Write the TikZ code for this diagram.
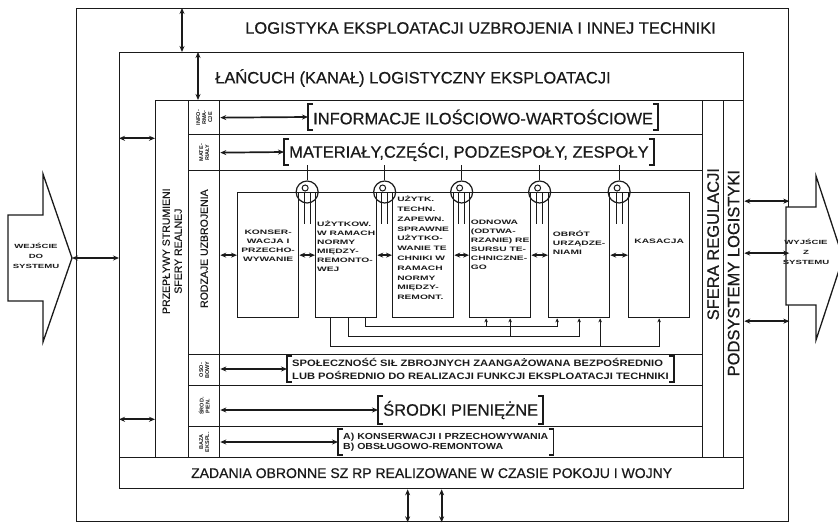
\documentclass[tikz,border=0pt]{standalone}
\usepackage{fontspec}
\setmainfont{Liberation Sans}
\newfontfamily\titlefont[FakeBold=0.6]{Liberation Sans}
\newfontfamily\stretchfont[FakeStretch=1.2]{Liberation Sans}
\newfontfamily\widefont[FakeStretch=1.6]{Liberation Sans}
\usepackage{tikz}
\usetikzlibrary{arrows.meta,positioning,calc}
\definecolor{InkBlack}{HTML}{1A1A1A}

\tikzset{
    % frames and cells, placed by their top left corner
    block/.style 2 args={
        draw=InkBlack,
        line width=1.3pt,
        anchor=north west,
        inner sep=0pt,
        minimum width=#1pt,
        minimum height=#2pt
    },
    % one kind of armament
    kindbox/.style={
        block={61}{125}
    },
    % titles of the frames
    titletext/.style={
        text=InkBlack,
        inner sep=0pt,
        font=\titlefont\fontsize{16.5}{19}\selectfont
    },
    % text set sideways
    sidetext/.style={
        text=InkBlack,
        rotate=90,
        align=center,
        inner sep=0pt,
        font=\titlefont\fontsize{10.5}{12}\selectfont
    },
    % tiny row labels
    rowlabel/.style={
        sidetext,
        font=\bfseries\fontsize{5.5}{6}\selectfont
    },
    % text inside the kinds of armament
    kindtext/.style={
        text=InkBlack,
        inner sep=0pt,
        align=left,
        font=\widefont\bfseries\fontsize{6.4}{9}\selectfont
    },
    % text between square brackets
    bracketed/.style={
        text=InkBlack,
        anchor=west,
        inner xsep=5pt,
        inner ysep=0pt,
        minimum height=26pt
    },
    bracketline/.style={
        draw=InkBlack,
        line width=1.8pt
    },
    % double arrow
    dblarrow/.style={
        {Stealth[length=6pt,width=5pt]}-{Stealth[length=6pt,width=5pt]},
        line width=1.7pt,
        draw=InkBlack
    },
    % regulating valve
    valve/.style={
        circle,
        draw=InkBlack,
        line width=1.2pt,
        minimum size=22pt,
        inner sep=0pt
    },
    thinline/.style={
        draw=InkBlack,
        line width=1pt
    },
    busline/.style={
        draw=InkBlack,
        line width=1pt
    },
    bustip/.style={
        busline,
        -{Stealth[length=4pt,width=3.5pt]}
    },
    % input and output of the system
    bigarrow/.style={
        draw=InkBlack,
        line width=1.3pt,
        fill=white
    }
}

\begin{document}
\begin{tikzpicture}[x=1pt, y=-1pt]
\useasboundingbox (0,0) rectangle (838,524);

% outer frames
\node[block={712}{513}] (logistyka) at (76,8) {};
\node[block={624}{436}] (lancuch) at (119,52) {};
\node[block={624}{31}] (zadania) at (119,457) {};
\node[titletext, anchor=west] at (245,28) {LOGISTYKA EKSPLOATACJI UZBROJENIA I INNEJ TECHNIKI};
\node[titletext, anchor=west] at (215,78) {ŁAŃCUCH (KANAŁ) LOGISTYCZNY EKSPLOATACJI};
\node[titletext, font=\titlefont\fontsize{14}{16}\selectfont] at (zadania.center) {ZADANIA OBRONNE SZ RP REALIZOWANE W CZASIE POKOJU I WOJNY};

% real sphere and regulation
\node[block={33}{357}] (strumienie) at (155,100) {};
\node[sidetext] at ($(strumienie.center)+(0,-28)$) {PRZEPŁYWY STRUMIENI\\SFERY REALNEJ};
\node[block={21}{357}] (sfera) at (702,100) {};
\node[block={20}{357}] (podsystemy) at (723,100) {};
\node[sidetext, font=\titlefont\fontsize{16.5}{19}\selectfont] at ($(sfera.center)+(0,-35)$) {SFERA REGULACJI};
\node[sidetext, font=\titlefont\fontsize{16.5}{19}\selectfont] at ($(podsystemy.center)+(0,-6)$) {PODSYSTEMY LOGISTYKI};

% rows
\foreach \n/\y/\h in {info/100/34, mat/134/36, rodz/170/184, osob/354/31, srod/385/41, baza/426/31} {
    \node[block={31}{\h}] (\n-lab) at (188,\y) {};
    \node[block={483}{\h}] (\n-row) at (219,\y) {};
}
\node[rowlabel] at (info-lab.center) {INFO-\\RMA-\\CJE};
\node[rowlabel] at (mat-lab.center) {MATE-\\RIAŁY};
\node[sidetext] at ($(rodz-lab.center)+(0,-14)$) {RODZAJE UZBROJENIA};
\node[rowlabel] at (osob-lab.center) {OSO-\\BOWY};
\node[rowlabel] at (srod-lab.center) {ŚROD.\\PIEN.};
\node[rowlabel] at (baza-lab.center) {BAZA\\EKSPL.};

\node[bracketed, font=\titlefont\fontsize{16.5}{19}\selectfont] (infotxt) at (308,117) {INFORMACJE ILOŚCIOWO-WARTOŚCIOWE};
\node[bracketed, font=\titlefont\fontsize{16.5}{19}\selectfont] (mattxt) at (284,152) {MATERIAŁY,CZĘŚCI, PODZESPOŁY, ZESPOŁY};
\node[bracketed, align=left, font=\stretchfont\bfseries\fontsize{9.3}{13}\selectfont] (osobtxt) at (287,369) {SPOŁECZNOŚĆ SIŁ ZBROJNYCH ZAANGAŻOWANA BEZPOŚREDNIO\\LUB POŚREDNIO DO REALIZACJI FUNKCJI EKSPLOATACJI TECHNIKI};
\node[bracketed, minimum height=28pt, font=\titlefont\fontsize{16.5}{19}\selectfont] (srodtxt) at (378,410) {ŚRODKI PIENIĘŻNE};
\node[bracketed, align=left, font=\stretchfont\bfseries\fontsize{8.8}{10}\selectfont] (bazatxt) at (338,442) {A) KONSERWACJI I PRZECHOWYWANIA\\B) OBSŁUGOWO-REMONTOWA};
\foreach \t in {infotxt, mattxt, osobtxt, srodtxt, bazatxt} {
    \draw[bracketline] ([xshift=5pt]\t.north west) -- (\t.north west) -- (\t.south west) -- ([xshift=5pt]\t.south west);
    \draw[bracketline] ([xshift=-5pt]\t.north east) -- (\t.north east) -- (\t.south east) -- ([xshift=-5pt]\t.south east);
}
\draw[dblarrow] (info-lab.east) -- (infotxt.west);
\draw[dblarrow] (mat-lab.east) -- (mattxt.west);
\draw[dblarrow] (osob-lab.east |- osobtxt.west) -- (osobtxt.west);
\draw[dblarrow] (srod-lab.east |- srodtxt.west) -- (srodtxt.west);
\draw[dblarrow] (baza-lab.east |- bazatxt.west) -- (bazatxt.west);

% kinds of armament
\node[kindbox] (konserwacja) at (237,192) {};
\node[kindbox] (uzytkowanie) at (315,192) {};
\node[kindbox] (sprawnosc) at (392,192) {};
\node[kindbox] (odnowa) at (469,192) {};
\node[kindbox] (obrot) at (548,192) {};
\node[kindbox] (kasacja) at (628,192) {};
\node[kindtext, align=center] at ($(konserwacja.center)+(0,-9)$) {KONSER-\\WACJA I\\PRZECHO-\\WYWANIE};
\node[kindtext] at ($(uzytkowanie.center)+(0,-9)$) {UŻYTKOW.\\W RAMACH\\NORMY\\MIĘDZY-\\REMONTO-\\WEJ};
\node[kindtext, anchor=north, font=\widefont\bfseries\fontsize{6.4}{9.8}\selectfont] at ($(sprawnosc.north)+(0,4)$) {UŻYTK.\\TECHN.\\ZAPEWN.\\SPRAWNE\\UŻYTKO-\\WANIE TE\\CHNIKI W\\RAMACH\\NORMY\\MIĘDZY-\\REMONT.};
\node[kindtext] at ($(odnowa.center)+(0,-10)$) {ODNOWA\\(ODTWA-\\RZANIE) RE\\SURSU TE-\\CHNICZNE-\\GO};
\node[kindtext] at ($(obrot.center)+(0,-12)$) {OBRÓT\\URZĄDZE-\\NIAMI};
\node[kindtext] at ($(kasacja.center)+(0,-14)$) {KASACJA};

\draw[dblarrow] (rodz-lab.east |- konserwacja.west) -- (konserwacja.west);
\foreach \a/\b/\v in {konserwacja/uzytkowanie/z1, uzytkowanie/sprawnosc/z2, sprawnosc/odnowa/z3, odnowa/obrot/z4, obrot/kasacja/z5} {
    \draw[dblarrow] (\a.east) -- (\b.west);
    \draw[thinline] (\a.north east) -- (\b.north west);
    \node[valve] (\v) at ($(\a.north east)!0.5!(\b.north west)$) {};
    \draw[thinline] (mattxt.south -| \v.center) -- (\v.north);
    \draw[thinline] ([xshift=-3pt]\v.center) -- ([xshift=-3pt,yshift=-32pt]\v.center);
    \draw[thinline] ([xshift=3pt]\v.center) -- ([xshift=3pt,yshift=-32pt]\v.center);
    \draw[thinline] ([xshift=-2pt,yshift=4pt]\v.center) circle[radius=3pt];
}

% links under the kinds
\draw[bustip] ($(uzytkowanie.south)+(19,0)$) |- ($(obrot.south)+(-22,8)$) -- ($(obrot.south)+(-22,0)$);
\draw[bustip] ($(odnowa.south)+(-14,8)$) -- ($(odnowa.south)+(-14,0)$);
\draw[bustip] ($(uzytkowanie.south)+(2,0)$) |- ($(obrot.south)+(0,18)$) -- (obrot.south);
\draw[bustip] ($(odnowa.south)+(10,18)$) -- ($(odnowa.south)+(10,0)$);
\draw[bustip] ($(uzytkowanie.south)+(-16,0)$) |- ($(kasacja.south)+(0,28)$) -- (kasacja.south);
\draw[bustip] ($(obrot.south)+(21,28)$) -- ($(obrot.south)+(21,0)$);

% input and output
\draw[bigarrow] (8,215) -- (43,215) -- (43,174) -- (72,258) -- (43,342) -- (43,301) -- (8,301) -- cycle;
\coordinate (wejscie) at (72,258);
\node[kindtext, align=center, font=\widefont\bfseries\fontsize{6}{10}\selectfont] at (36,256) {WEJŚCIE\\DO\\SYSTEMU};
\draw[bigarrow] (786,207) -- (816,207) -- (816,176) -- (843,258) -- (816,340) -- (816,305) -- (786,305) -- cycle;
\node[kindtext, align=center, font=\widefont\bfseries\fontsize{6}{10}\selectfont] at (806,252) {WYJŚCIE\\Z\\SYSTEMU};

% exchanges between frames
\draw[dblarrow] (wejscie) -- (wejscie -| lancuch.west);
\draw[dblarrow] ($(lancuch.west |- info-lab.south)+(0,3)$) -- ($(strumienie.west |- info-lab.south)+(0,3)$);
\draw[dblarrow] ($(lancuch.west |- srod-lab.south)+(0,-8)$) -- ($(strumienie.west |- srod-lab.south)+(0,-8)$);
\foreach \dy in {-78,-26,42} {
    \draw[dblarrow] ($(podsystemy.east)+(0,\dy)$) -- ($(podsystemy.east -| logistyka.east)+(0,\dy)$);
}
\draw[dblarrow] ([xshift=106pt]logistyka.north west) -- ([xshift=106pt]logistyka.north west |- lancuch.north);
\draw[dblarrow] ([xshift=79pt]lancuch.north west) -- ([xshift=79pt]lancuch.north west |- strumienie.north);
\draw[dblarrow] ([xshift=-24pt]zadania.south) -- ([xshift=-24pt]zadania.south |- logistyka.south);
\draw[dblarrow] ([xshift=10pt]zadania.south) -- ([xshift=10pt]zadania.south |- logistyka.south);
\end{tikzpicture}
\end{document}
